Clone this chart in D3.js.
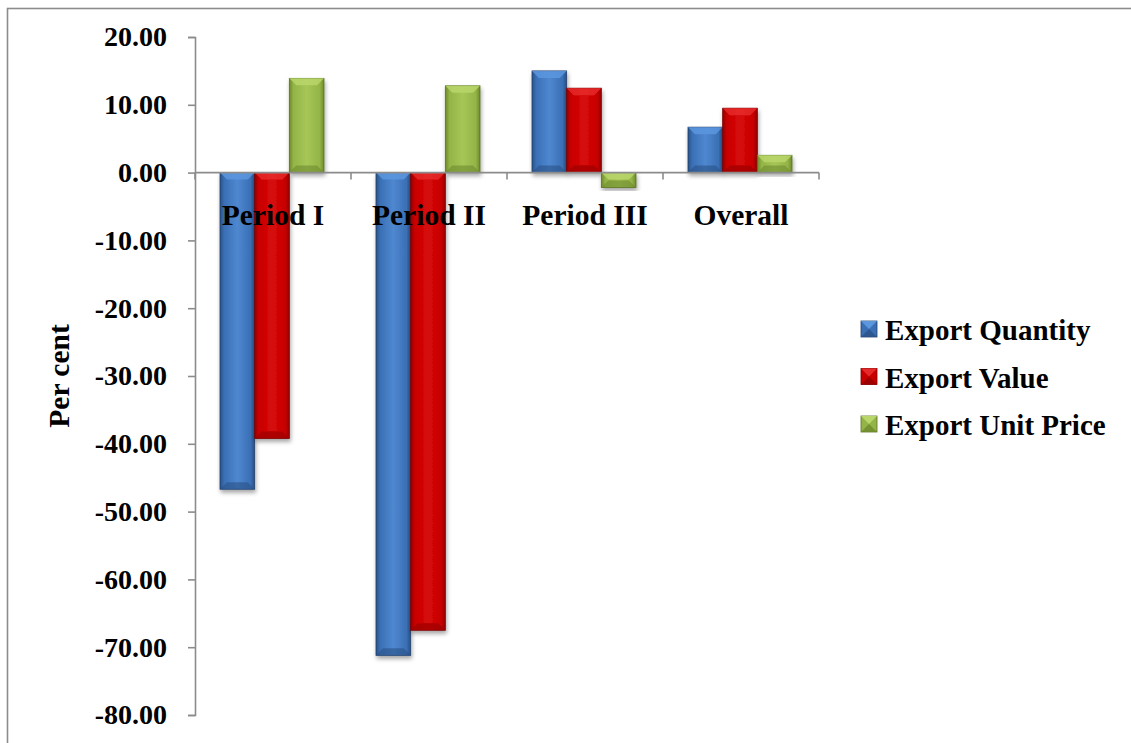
<!DOCTYPE html>
<html>
<head>
<meta charset="utf-8">
<script src="https://cdn.jsdelivr.net/npm/d3@7"></script>
<style>
  body { margin: 0; background: #fff; }
  text { font-family: "Liberation Serif", "Times New Roman", serif; font-weight: bold; fill: #000; }
</style>
</head>
<body>
<svg width="1131" height="743"></svg>
<script>
const categories = ["Period I", "Period II", "Period III", "Overall"];
const seriesNames = ["Export Quantity", "Export Value", "Export Unit Price"];
const exportQuantity = [-46.7, -71.2, 15.0, 6.7];
const exportValue = [-39.2, -67.5, 12.45, 9.5];
const exportUnitPrice = [13.9, 12.8, -2.2, 2.55];
const yTicks = [20, 10, 0, -10, -20, -30, -40, -50, -60, -70, -80];

const colors = [
  { base: "#3a6fb5", light: "#4f88d0", top: "#5c97de", dark: "#2a5186", edge: "#22426e" },
  { base: "#c80000", light: "#d60a0a", top: "#e62a2a", dark: "#940000", edge: "#7a0000" },
  { base: "#93b446", light: "#a6c657", top: "#b8d66a", dark: "#6e8a2e", edge: "#5a7224" }
];

const svg = d3.select("svg");
const margin = { left: 195, right: 312, top: 37, bottom: 28 };
const width = 1131 - margin.left - margin.right;
const height = 743 - margin.top - margin.bottom;

const defs = svg.append("defs");
const shadow = defs.append("filter").attr("id", "shadow")
  .attr("x", "-20%").attr("y", "-20%").attr("width", "140%").attr("height", "140%");
shadow.append("feDropShadow").attr("dx", 1).attr("dy", 3).attr("stdDeviation", 2.2)
  .attr("flood-color", "#000").attr("flood-opacity", 0.35);

colors.forEach((c, i) => {
  const g = defs.append("linearGradient").attr("id", "grad" + i)
    .attr("x1", "0%").attr("x2", "100%").attr("y1", "0%").attr("y2", "0%");
  g.append("stop").attr("offset", "0%").attr("stop-color", c.dark);
  g.append("stop").attr("offset", "12%").attr("stop-color", c.base);
  g.append("stop").attr("offset", "50%").attr("stop-color", c.light);
  g.append("stop").attr("offset", "88%").attr("stop-color", c.base);
  g.append("stop").attr("offset", "100%").attr("stop-color", c.dark);
});

// outer frame
svg.append("rect").attr("x", 7.5).attr("y", 8.5).attr("width", 1200).attr("height", 800)
  .attr("fill", "none").attr("stroke", "#8c8c8c").attr("stroke-width", 1.6);

const g = svg.append("g").attr("transform", `translate(${margin.left},${margin.top})`);

const y = d3.scaleLinear().domain([-80, 20]).range([height, 0]);
const x0 = d3.scaleBand().domain(categories).range([0, width]).paddingInner(0).paddingOuter(0);
const x1 = d3.scaleBand().domain(seriesNames).range([25, x0.bandwidth() - 27]).padding(0);

const data = categories.map((c, i) => ({
  cat: c,
  vals: [exportQuantity[i], exportValue[i], exportUnitPrice[i]]
}));

// y axis
const fmt = d => d3.format(".2f")(d).replace("\u2212", "-");
const yAxis = g.append("g").call(d3.axisLeft(y).tickValues(yTicks).tickSize(7).tickPadding(21)
  .tickFormat(fmt));
yAxis.select(".domain").attr("stroke", "#8c8c8c").attr("stroke-width", 1.6);
yAxis.selectAll(".tick line").attr("stroke", "#8c8c8c").attr("stroke-width", 1.6);
yAxis.selectAll(".tick text").style("font-size", "28px")
  .style("font-family", "'Liberation Serif', serif").style("font-weight", "bold").attr("fill", "#000");

// bars
const groups = g.selectAll(".grp").data(data).enter().append("g")
  .attr("transform", d => `translate(${x0(d.cat)},0)`);

groups.each(function (d) {
  const grp = d3.select(this);
  d.vals.forEach((v, i) => {
    const bx = x1(seriesNames[i]);
    const bw = x1.bandwidth();
    const top = y(Math.max(0, v));
    const bot = y(Math.min(0, v));
    const bh = bot - top;
    const c = colors[i];
    const bar = grp.append("g").attr("filter", "url(#shadow)");
    bar.append("rect").attr("x", bx).attr("y", top).attr("width", bw).attr("height", bh)
      .attr("fill", `url(#grad${i})`).attr("stroke", c.edge).attr("stroke-width", 0.8);
    const dep = Math.min(7, bh / 2);
    // top bevel (lighter)
    bar.append("path")
      .attr("d", `M${bx},${top} L${bx + bw},${top} L${bx + bw - dep},${top + dep} L${bx + dep},${top + dep} Z`)
      .attr("fill", c.top).attr("opacity", 0.85);
    // bottom bevel (darker)
    bar.append("path")
      .attr("d", `M${bx},${bot} L${bx + bw},${bot} L${bx + bw - dep},${bot - dep} L${bx + dep},${bot - dep} Z`)
      .attr("fill", c.dark).attr("opacity", 0.6);
  });
});

// x axis at zero
const xAxis = g.append("g").attr("transform", `translate(0,${y(0)})`);
xAxis.append("line").attr("x1", 0).attr("x2", width).attr("y1", 0).attr("y2", 0)
  .attr("stroke", "#8c8c8c").attr("stroke-width", 1.6);
xAxis.selectAll(".xt").data(categories.concat(["end"])).enter().append("line")
  .attr("x1", (d, i) => i * x0.bandwidth()).attr("x2", (d, i) => i * x0.bandwidth())
  .attr("y1", 0).attr("y2", 7).attr("stroke", "#8c8c8c").attr("stroke-width", 1.6);
xAxis.selectAll(".xl").data(categories).enter().append("text")
  .attr("x", d => x0(d) + x0.bandwidth() / 2).attr("y", 52)
  .attr("text-anchor", "middle").style("font-size", "29.5px").text(d => d);

// y title
svg.append("text").attr("transform", "translate(69,376) rotate(-90)")
  .attr("text-anchor", "middle").style("font-size", "29.5px").text("Per cent");

// legend
const legend = svg.append("g").attr("transform", "translate(861,321)");
seriesNames.forEach((s, i) => {
  const lg = legend.append("g").attr("transform", `translate(0,${i * 47.5})`);
  const c = colors[i];
  lg.append("rect").attr("width", 16).attr("height", 16).attr("fill", c.base).attr("stroke", c.edge).attr("stroke-width", 0.8);
  lg.append("path").attr("d", "M0,0 L16,0 L8,8 Z").attr("fill", c.top);
  lg.append("path").attr("d", "M0,16 L16,16 L8,8 Z").attr("fill", c.dark).attr("opacity", 0.8);
  lg.append("text").attr("x", 24).attr("y", 19).style("font-size", "29px").text(s);
});
</script>
</body>
</html>
